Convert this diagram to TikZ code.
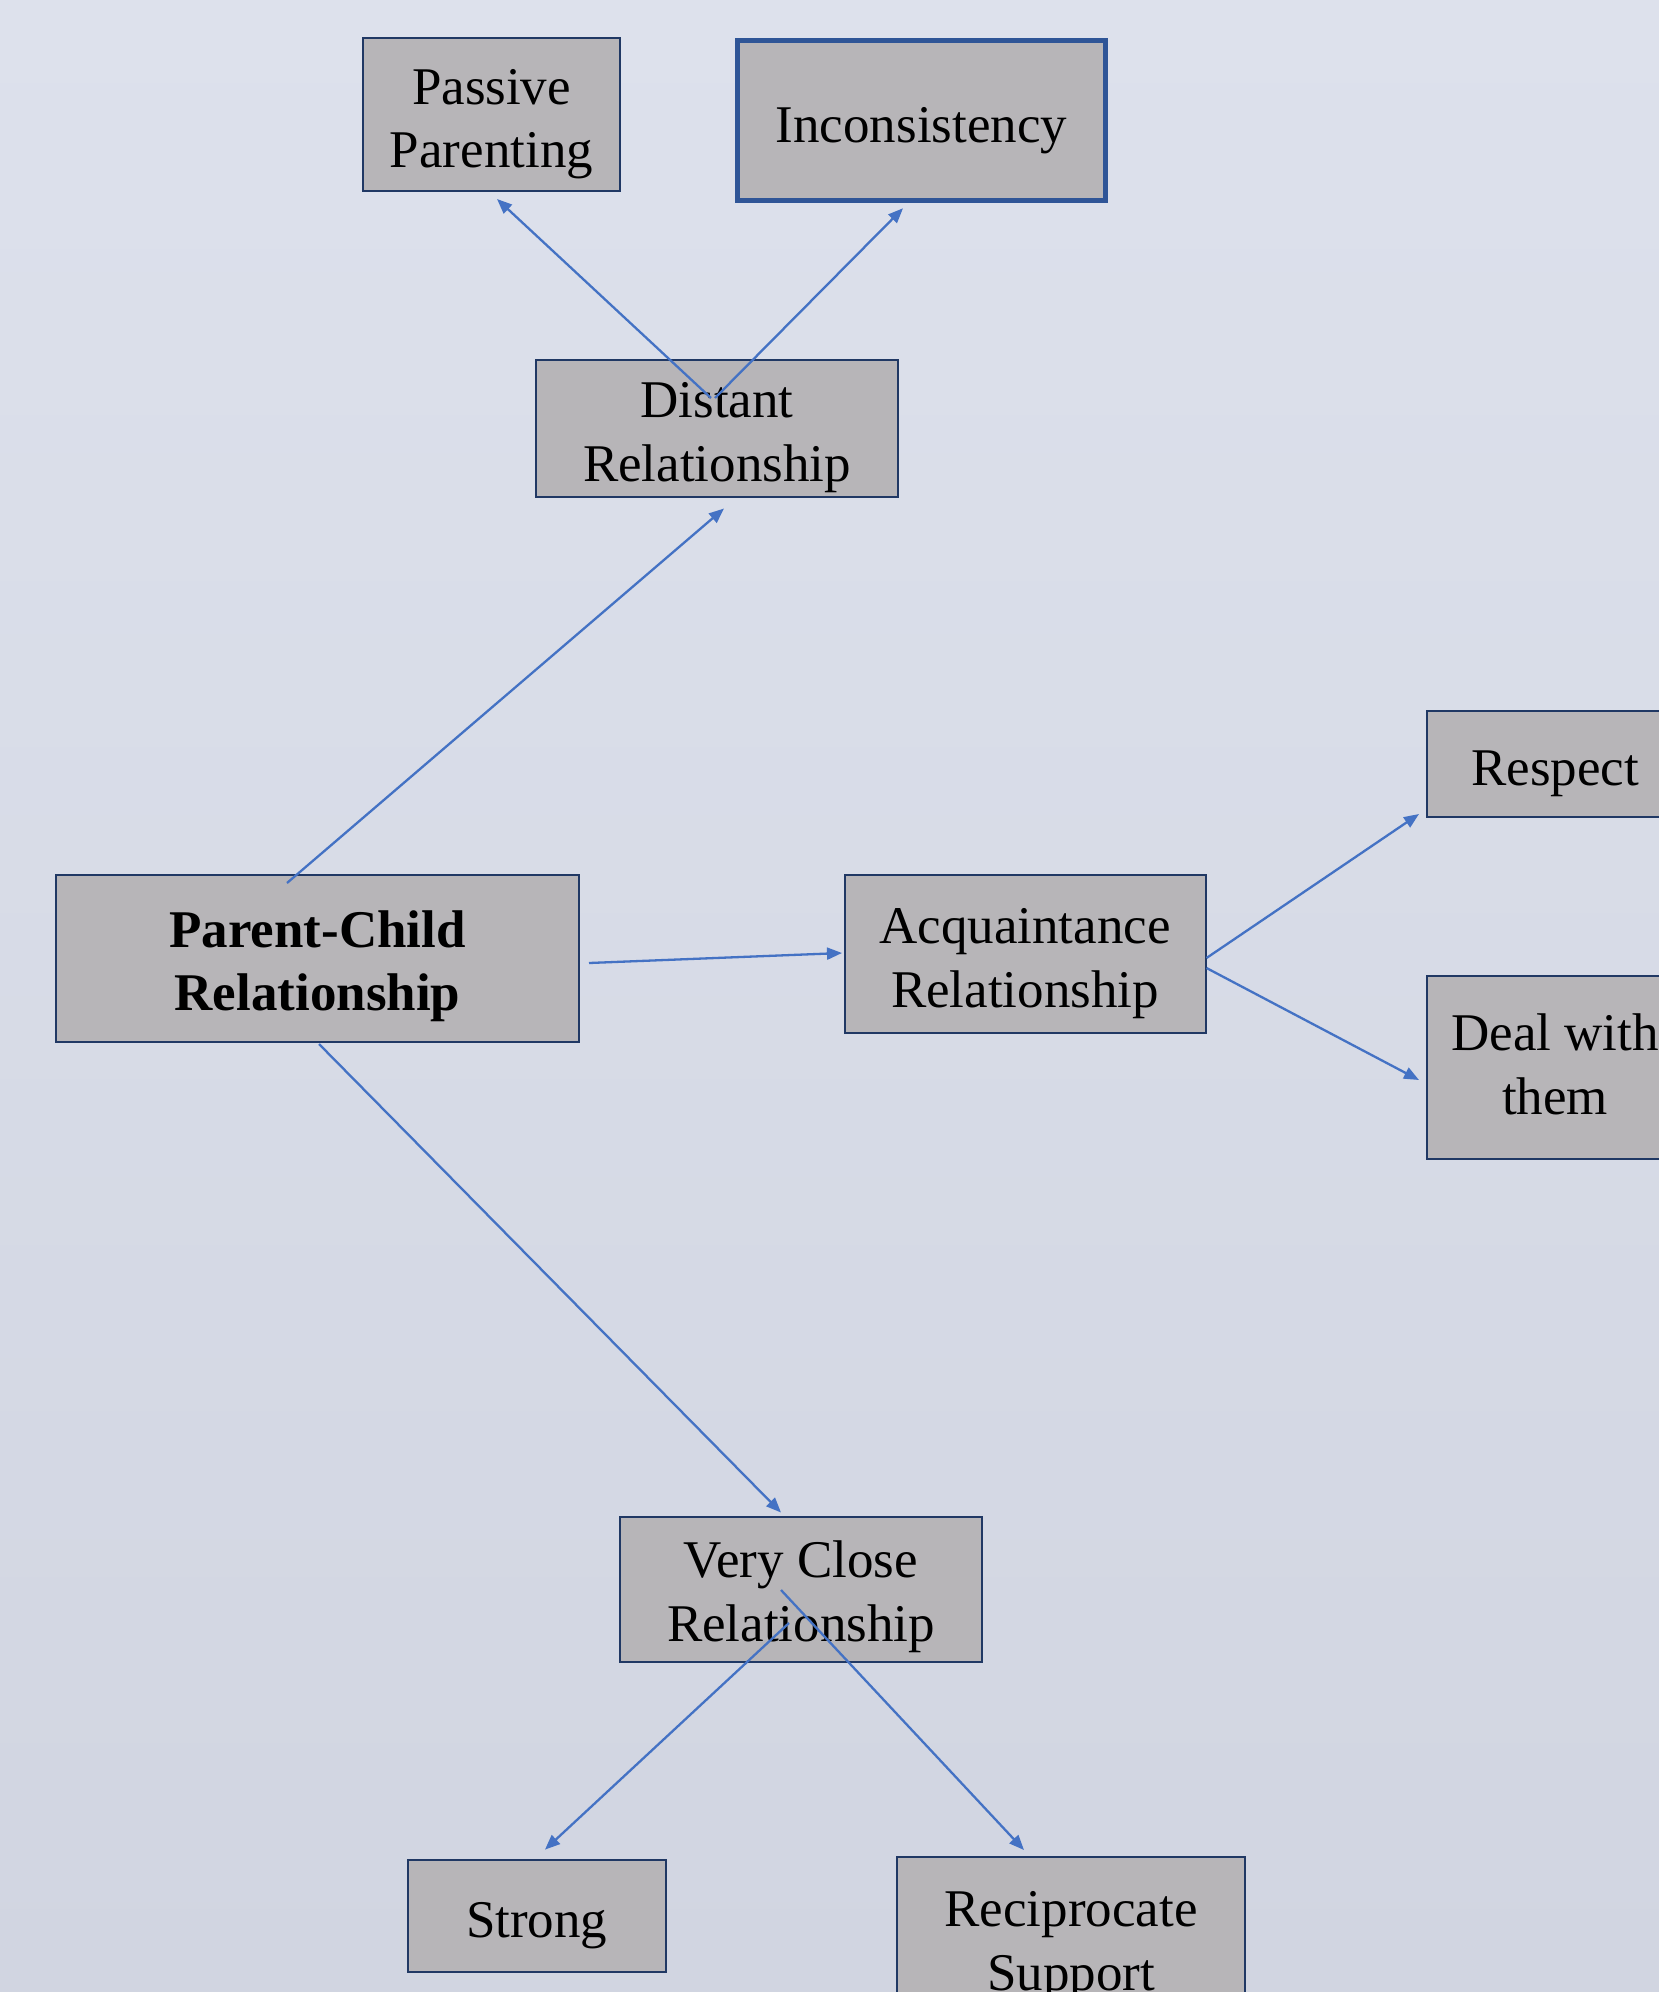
\documentclass[tikz,border=0pt]{standalone}
\usepackage{fontspec}
\setmainfont{Liberation Serif}
\usetikzlibrary{arrows.meta}
\definecolor{bgtop}{HTML}{DDE1EC}
\definecolor{bgbot}{HTML}{D1D5E1}
\definecolor{boxfill}{HTML}{B7B5B8}
\definecolor{boxline}{HTML}{203864}
\definecolor{thickline}{HTML}{2F5597}
\definecolor{arrowcol}{HTML}{4472C4}
\newcommand\lowtext[2]{\raisebox{-#1}[\height][\depth]{\begin{tabular}{@{}c@{}}#2\end{tabular}}}
\tikzset{
  box/.style={draw=boxline, line width=2pt, fill=boxfill, align=center, inner sep=0pt,
    font=\fontsize{53}{63.5}\selectfont, text=black},
  arr/.style={draw=arrowcol, line width=2.3pt, -{Triangle[length=15pt,width=12pt]}}
}
\begin{document}
\begin{tikzpicture}[x=1pt,y=-1pt]
\useasboundingbox (0,0) rectangle (1659,1992);
\clip (0,0) rectangle (1659,1992);
\shade[top color=bgtop, bottom color=bgbot] (0,0) rectangle (1659,1992);

\node[box, minimum width=257pt, minimum height=153pt] (pass) at (491.5,114.5) {\lowtext{9pt}{Passive\\Parenting}};
\node[box, draw=thickline, line width=5.5pt, minimum width=368pt, minimum height=160pt] (inc) at (921.5,120.5) {\lowtext{9pt}{Inconsistency}};
\node[box, minimum width=362pt, minimum height=137pt] (dist) at (717,428) {\lowtext{9pt}{Distant\\Relationship}};
\node[box, minimum width=523pt, minimum height=167pt, font=\fontsize{53}{63.5}\selectfont\bfseries] (pc) at (317.5,958.5) {\lowtext{8pt}{Parent-Child\\Relationship}};
\node[box, minimum width=361pt, minimum height=158pt] (acq) at (1025,954) {\lowtext{9pt}{Acquaintance\\Relationship}};
\node[box, minimum width=257pt, minimum height=106pt] (resp) at (1555,764) {\lowtext{9pt}{Respect}};
\node[box, minimum width=257pt, minimum height=183pt] (deal) at (1555,1067) {\lowtext{3pt}{Deal with\\them}};
\node[box, minimum width=362pt, minimum height=145pt] (vc) at (801,1589) {\lowtext{8pt}{Very Close\\Relationship}};
\node[box, minimum width=258pt, minimum height=112pt] (strong) at (536.7,1915.6) {\lowtext{9pt}{Strong}};
\node[box, minimum width=348pt, minimum height=160pt] (rec) at (1071,1937) {\lowtext{9pt}{Reciprocate\\Support}};

\draw[arr] ([xshift=-30.5pt,yshift=-9pt]pc.north) -- ([xshift=7pt,yshift=-11pt]dist.south);
\draw[arr] ([xshift=-6pt,yshift=30pt]dist.center) -- ([xshift=5.5pt,yshift=-7pt]pass.south);
\draw[arr] ([xshift=-2pt,yshift=30pt]dist.center) -- ([xshift=-18.5pt,yshift=-5pt]inc.south);
\draw[arr] ([xshift=9pt,yshift=-4.5pt]pc.east) -- ([xshift=-1.5pt,yshift=1pt]acq.west);
\draw[arr] ([yshift=-4pt]acq.east) -- ([xshift=-6.5pt,yshift=4pt]resp.south west);
\draw[arr] ([yshift=-14pt]acq.east) -- ([xshift=-6.5pt,yshift=-13pt]deal.west);
\draw[arr] ([xshift=1.5pt,yshift=-1pt]pc.south) -- ([xshift=-20pt,yshift=3pt]vc.north);
\draw[arr] ([xshift=-12pt,yshift=-34pt]vc.center) -- ([xshift=8.3pt,yshift=9pt]strong.north);
\draw[arr] ([xshift=-20pt,yshift=-1pt]vc.center) -- ([xshift=-47pt,yshift=6pt]rec.north);
\end{tikzpicture}
\end{document}
